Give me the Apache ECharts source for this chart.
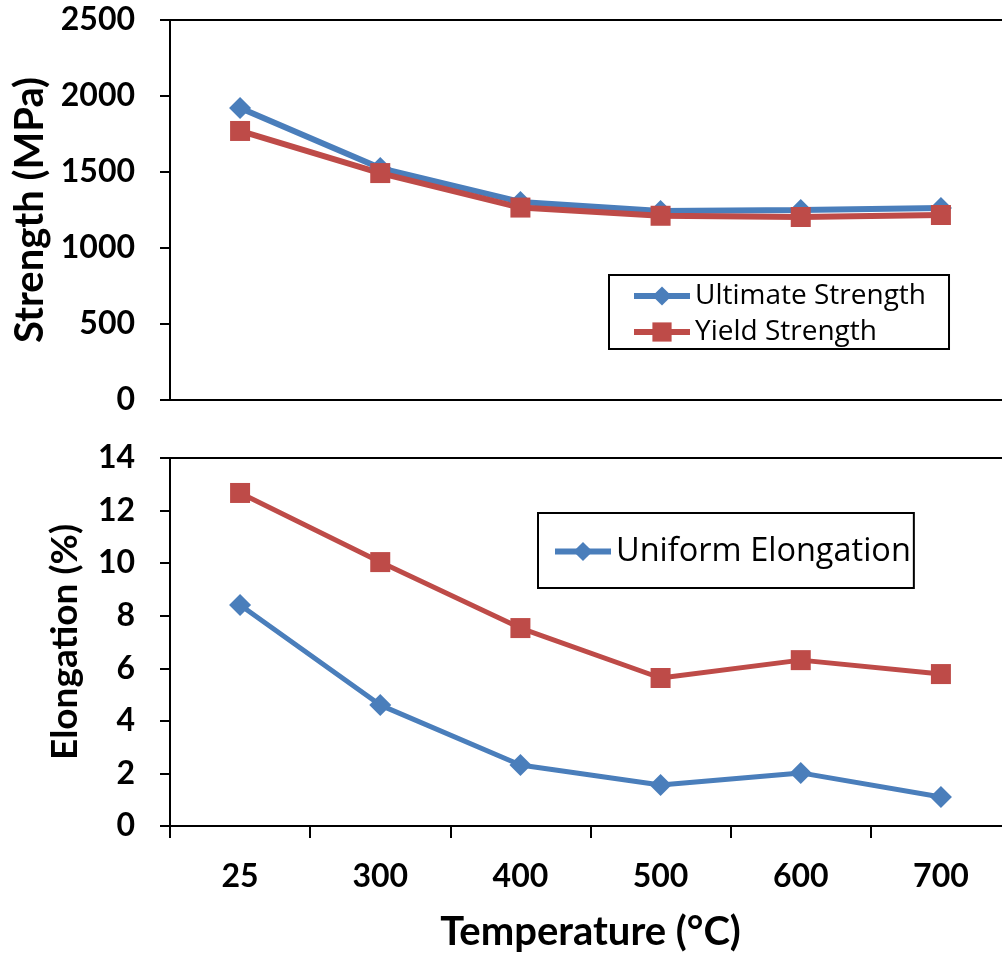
<!DOCTYPE html>
<html>
<head>
<meta charset="utf-8">
<script src="https://cdn.jsdelivr.net/npm/echarts@6/dist/echarts.min.js"></script>
<style>html,body{margin:0;padding:0;background:#fff;overflow:hidden}#c{width:1020px;height:957px}</style>
</head>
<body>
<div id="c"></div>
<script>
const temperatures = ['25', '300', '400', '500', '600', '700'];
const ultimateStrength = [1921, 1526, 1303, 1243, 1250, 1263];
const yieldStrength = [1770, 1493, 1266, 1212, 1204, 1217];
const uniformElongation = [8.41, 4.60, 2.32, 1.56, 2.02, 1.10];
const totalElongation = [12.67, 10.04, 7.53, 5.63, 6.31, 5.78];
const strengthTicks = { min: 0, max: 2500, interval: 500 };
const elongationTicks = { min: 0, max: 14, interval: 2 };

const BLUE = '#4A7EBB', RED = '#BE4B48';
const FONT = 'Lato';
const chart = echarts.init(document.getElementById('c'));
const axisLine = { show: true, lineStyle: { color: '#000', width: 2 } };
const yLabel = { fontFamily: FONT, fontWeight: 'bold', fontSize: 32, color: '#000', margin: 35,
  formatter: v => String(v) };
chart.setOption({
  animation: false,
  backgroundColor: '#fff',
  grid: [
    { left: 170, top: 20, width: 841, height: 380, show: true, borderColor: '#000', borderWidth: 2 },
    { left: 170, top: 458, width: 841, height: 368, show: true, borderColor: '#000', borderWidth: 2 }
  ],
  legend: [
    { data: ['Ultimate Strength', 'Yield Strength'], orient: 'vertical', left: 609, top: 275,
      itemWidth: 56, itemHeight: 24, itemGap: 8, padding: [7, 23, 3, 22],
      borderColor: '#000', borderWidth: 2, borderRadius: 0,
      lineStyle: { width: 6 },
      textStyle: { fontFamily: 'Open Sans', fontSize: 28, color: '#000' } },
    { data: ['Uniform Elongation'], orient: 'vertical', left: 538, top: 513,
      itemWidth: 56, itemHeight: 24, padding: [22, 3, 20, 14],
      borderColor: '#000', borderWidth: 2, borderRadius: 0,
      lineStyle: { width: 6 },
      textStyle: { fontFamily: 'Open Sans', fontSize: 32.5, color: '#000' } }
  ],
  xAxis: [
    { type: 'category', gridIndex: 0, data: temperatures, axisLine: axisLine,
      axisTick: { show: false }, axisLabel: { show: false } },
    { type: 'category', gridIndex: 1, data: temperatures, axisLine: axisLine,
      axisTick: { show: true, length: 12, lineStyle: { color: '#000', width: 2 } },
      axisLabel: { fontFamily: FONT, fontWeight: 'bold', fontSize: 32, color: '#000', margin: 35 },
      name: 'Temperature (°C)', nameLocation: 'middle', nameGap: 86,
      nameTextStyle: { fontFamily: FONT, fontWeight: 'bold', fontSize: 40, color: '#000' } }
  ],
  yAxis: [
    { type: 'value', gridIndex: 0, min: strengthTicks.min, max: strengthTicks.max, interval: strengthTicks.interval,
      axisLine: axisLine, splitLine: { show: false },
      axisTick: { show: true, length: 10, lineStyle: { color: '#000', width: 2 } },
      axisLabel: yLabel,
      name: 'Strength (MPa)', nameLocation: 'middle', nameGap: 117,
      nameTextStyle: { fontFamily: FONT, fontWeight: 'bold', fontSize: 40, color: '#000' } },
    { type: 'value', gridIndex: 1, min: elongationTicks.min, max: elongationTicks.max, interval: elongationTicks.interval,
      axisLine: axisLine, splitLine: { show: false },
      axisTick: { show: true, length: 10, lineStyle: { color: '#000', width: 2 } },
      axisLabel: yLabel,
      name: 'Elongation (%)', nameLocation: 'middle', nameGap: 86,
      nameTextStyle: { fontFamily: FONT, fontWeight: 'bold', fontSize: 37, color: '#000' } }
  ],
  series: [
    { name: 'Ultimate Strength', type: 'line', xAxisIndex: 0, yAxisIndex: 0, data: ultimateStrength,
      symbol: 'diamond', symbolSize: 22, itemStyle: { color: BLUE }, lineStyle: { color: BLUE, width: 6 } },
    { name: 'Yield Strength', type: 'line', xAxisIndex: 0, yAxisIndex: 0, data: yieldStrength,
      symbol: 'rect', symbolSize: 20, itemStyle: { color: RED }, lineStyle: { color: RED, width: 6 } },
    { name: 'Total Elongation', type: 'line', xAxisIndex: 1, yAxisIndex: 1, data: totalElongation,
      symbol: 'rect', symbolSize: 20, itemStyle: { color: RED }, lineStyle: { color: RED, width: 5 } },
    { name: 'Uniform Elongation', type: 'line', xAxisIndex: 1, yAxisIndex: 1, data: uniformElongation,
      symbol: 'diamond', symbolSize: 22, itemStyle: { color: BLUE }, lineStyle: { color: BLUE, width: 5 } }
  ]
});
</script>
</body>
</html>
